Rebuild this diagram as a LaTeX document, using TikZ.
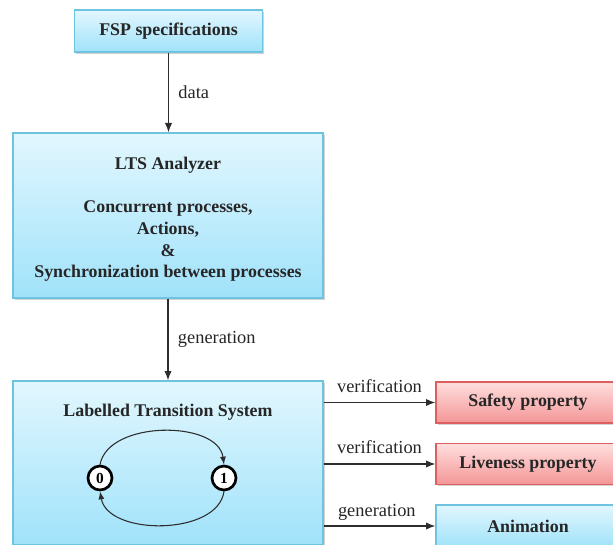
\documentclass[tikz,border=0pt]{standalone}
\usepackage{fontspec}
\setmainfont{Liberation Serif}
\usetikzlibrary{arrows.meta,shadows,calc}
\definecolor{bluetop}{RGB}{226,247,254}
\definecolor{bluebot}{RGB}{160,226,250}
\definecolor{blueedge}{RGB}{110,195,225}
\definecolor{redtop}{RGB}{255,222,222}
\definecolor{redbot}{RGB}{244,150,150}
\definecolor{rededge}{RGB}{222,95,95}
\definecolor{linecol}{RGB}{45,45,45}
\begin{document}
\begin{tikzpicture}[x=0.75pt,y=-0.75pt,
  bluebox/.style={draw=blueedge, line width=1pt, top color=bluetop, bottom color=bluebot,
    drop shadow={shadow xshift=1.2pt, shadow yshift=-1.2pt, opacity=0.35}, inner sep=0pt,
    font=\fontsize{13.4}{16.3}\selectfont\bfseries, align=center, text=black!85},
  redbox/.style={bluebox, draw=rededge, top color=redtop, bottom color=redbot},
  conn/.style={draw=linecol, line width=0.9pt, -{Latex[length=7pt,width=5.5pt]}},
  lbl/.style={font=\fontsize{13.8}{15}\selectfont, text=black!85, inner sep=1pt},
  state/.style={circle, draw=black, line width=2pt, fill=white, minimum size=18pt, inner sep=0pt,
    font=\fontsize{11.5}{12}\selectfont\bfseries},
  trans/.style={draw=linecol, line width=0.8pt, -{Latex[length=6pt,width=4.5pt]}}]
\useasboundingbox (0,0) rectangle (613,545);
\clip (0,0) rectangle (613,545);
\node[bluebox, minimum width=188*0.75pt, minimum height=42*0.75pt] (fsp) at (168.5,31) {FSP specifications};
\node[bluebox, minimum width=310*0.75pt, minimum height=165*0.75pt] (ltsa) at (168,215.5) {};
\node[font=\fontsize{13.4}{16.3}\selectfont\bfseries, align=center, text=black!85] (ltsatext) at (168,219.5)
  {LTS Analyzer\\[16pt]Concurrent processes,\\Actions,\\\&\\Synchronization between processes};
\node[bluebox, minimum width=310*0.75pt, minimum height=164*0.75pt] (lts) at (168,463) {};
\node[font=\fontsize{13.4}{15}\selectfont\bfseries, text=black!85] (ltstitle) at (168,412) {Labelled Transition System};
\node[redbox, minimum width=184*0.75pt, minimum height=41*0.75pt] (safe) at (528,402.5) {Safety property};
\node[redbox, minimum width=184*0.75pt, minimum height=41*0.75pt] (live) at (528,464) {Liveness property};
\node[bluebox, minimum width=184*0.75pt, minimum height=42*0.75pt] (anim) at (528,526) {Animation};
\node[state] (s0) at (100,478) {0};
\node[state] (s1) at (224,478) {1};
\draw[trans] (s0.north) .. controls (108,420) and (218,420) .. (s1.north);
\draw[trans] (s1.south) .. controls (218,536) and (108,536) .. (s0.south);
\draw[conn] (fsp.south) -- (fsp.south |- ltsa.north) node[lbl, midway, right=6pt] (ldata) {data};
\draw[conn] (ltsa.south) -- (ltsa.south |- lts.north) node[lbl, midway, right=6pt] (lgen) {generation};
\draw[conn] (lts.east |- safe.west) -- (safe.west) node[lbl, midway, above=6pt] (lv1) {verification};
\draw[conn] (lts.east |- live.west) -- (live.west) node[lbl, midway, above=6pt] (lv2) {verification};
\draw[conn] (lts.east |- anim.west) -- (anim.west) node[lbl, midway, above=3pt, xshift=-2pt] (lg2) {generation};
\end{tikzpicture}
\end{document}
